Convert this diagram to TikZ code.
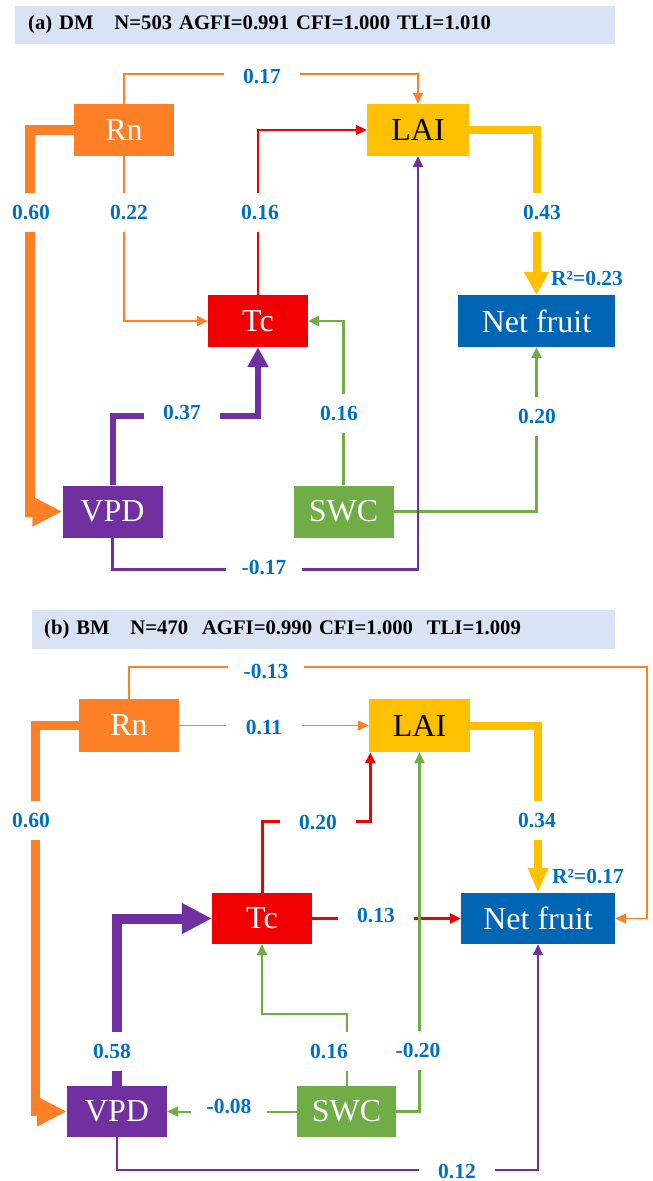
\documentclass[tikz,border=0pt]{standalone}
\usepackage{fontspec}
\setmainfont{Liberation Serif}
\usetikzlibrary{arrows.meta}
\definecolor{rnc}{RGB}{253,128,39}
\definecolor{laic}{RGB}{255,192,0}
\definecolor{tcc}{RGB}{240,0,0}
\definecolor{nfc}{RGB}{0,101,179}
\definecolor{vpdc}{RGB}{112,48,160}
\definecolor{swcc}{RGB}{112,173,71}
\definecolor{titc}{RGB}{218,227,243}
\definecolor{lblc}{RGB}{0,112,192}
\begin{document}
\begin{tikzpicture}[x=1pt,y=-1pt,font=\fontsize{21.5}{25}\selectfont,
box/.style={minimum width=100pt,minimum height=52pt,inner sep=0pt,text=white,font=\fontsize{32}{38}\selectfont},
lbl/.style={fill=white,text=lblc,minimum width=76pt,minimum height=39pt,inner sep=0pt,font=\bfseries\fontsize{21.5}{25}\selectfont},
rsq/.style={text=lblc,inner sep=0pt,font=\bfseries\fontsize{21.5}{25}\selectfont},
tbar/.style={fill=titc,anchor=west,minimum height=38pt,inner ysep=0pt,align=left,font=\bfseries\fontsize{20.7}{25}\selectfont},
arr/.style={-{Triangle[length=11pt,width=10pt]}}]
\useasboundingbox (0,0) rectangle (653,1181);
\node[tbar,inner xsep=13pt,text width=574pt] at (15,25) (titA) {(a) DM\ \ \ N=503 AGFI=0.991 CFI=1.000 TLI=1.010};
\node[box,fill=rnc] at (124,130) (rnA) {Rn};
\node[box,fill=laic,text=black,minimum width=102pt] at (418,130) (laiA) {LAI};
\node[box,fill=tcc] at (258,321) (tcA) {Tc};
\node[box,fill=nfc,minimum width=157pt] at (536.5,321) (nfA) {Net fruit};
\node[box,fill=vpdc] at (112.5,511.5) (vpdA) {VPD};
\node[box,fill=swcc] at (343.5,511.5) (swcA) {SWC};
\draw[rnc,line width=2pt,arr] (rnA.north)--++(0,-30)-|(laiA.north);
\draw[rnc,line width=10pt,-{Triangle[length=30pt,width=28pt]}] (rnA.west)--++(-44,0)|-(vpdA.west);
\draw[rnc,line width=2.5pt,arr] (rnA.south)|-(tcA.west);
\draw[tcc,line width=2pt,arr] (tcA.north)|-(laiA.west);
\draw[laic,line width=8pt,-{Triangle[length=23pt,width=24pt]}] (laiA.east)-|(nfA.north);
\draw[vpdc,line width=6pt,-{Triangle[length=20pt,width=20pt]}] (vpdA.north)--++(0,-69)-|(tcA.south);
\draw[swcc,line width=2.5pt,arr] (swcA.north)|-(tcA.east);
\draw[swcc,line width=2.5pt,arr] (swcA.east)-|(nfA.south);
\draw[vpdc,line width=2.5pt,arr] (vpdA.south)--++(0,32)-|(laiA.south);
\node[lbl] at (262,77) (l17a) {0.17};
\node[lbl] at (31,212) (l60a) {0.60};\node[lbl] at (129,212) (l22a) {0.22};
\node[lbl] at (260,212) (l16a) {0.16};\node[lbl] at (542,212) (l43a) {0.43};
\node[lbl] at (182,412) (l37a) {0.37};\node[lbl] at (339,413) (l16c) {0.16};
\node[lbl] at (537,416) (l20a) {0.20};\node[lbl] at (264,567) (l17c) {-0.17};
\node[rsq] at (587,278) (r2A) {R²=0.23};
\node[tbar,inner xsep=12pt,minimum height=39pt,text width=559pt] at (32,629.5) (titB) {(b) BM\ \ \ N=470\ \ AGFI=0.990 CFI=1.000\ \ TLI=1.009};
\node[box,fill=rnc,minimum height=53pt] at (129,725.5) (rnB) {Rn};
\node[box,fill=laic,text=black,minimum width=101pt,minimum height=53pt] at (419.5,725.5) (laiB) {LAI};
\node[box,fill=tcc,minimum height=51pt] at (262,918.5) (tcB) {Tc};
\node[box,fill=nfc,minimum width=154pt,minimum height=51pt] at (538,918.5) (nfB) {Net fruit};
\node[box,fill=vpdc,minimum height=51pt] at (117,1111.5) (vpdB) {VPD};
\node[box,fill=swcc,minimum width=99pt,minimum height=51pt] at (346.5,1111.5) (swcB) {SWC};
\coordinate (rgt) at (647,667);
\draw[rnc,line width=1.5pt,arr] (rnB.north)|-(rgt)|-(nfB.east);
\draw[rnc,line width=1.5pt,arr] (rnB.east)--(laiB.west);
\draw[rnc,line width=9pt,-{Triangle[length=30pt,width=28pt]}] (rnB.west)--++(-43,0)|-(vpdB.west);
\draw[tcc,line width=3pt,arr] (tcB.north)--++(0,-71)-|([xshift=1.5pt]laiB.south west);
\draw[tcc,line width=2.5pt,arr] (tcB.east)--(nfB.west);
\draw[laic,line width=8pt,-{Triangle[length=25pt,width=19pt]}] (laiB.east)-|(nfB.north);
\draw[vpdc,line width=10pt,-{Triangle[length=30pt,width=29pt]}] (vpdB.north)|-(tcB.west);
\draw[vpdc,line width=1.5pt,arr] (vpdB.south)--++(0,33)-|(nfB.south);
\draw[swcc,line width=2pt,arr] (swcB.north)--++(0,-72)-|(tcB.south);
\draw[swcc,line width=2.5pt,arr] (swcB.east)-|(laiB.south);
\draw[swcc,line width=2pt,arr] (swcB.west)--(vpdB.east);
\node[lbl] at (266,671) (l13b) {-0.13};\node[lbl] at (264,727) (l11b) {0.11};
\node[lbl] at (31,820) (l60b) {0.60};\node[lbl] at (318,822) (l20b) {0.20};
\node[lbl] at (537,820) (l34b) {0.34};\node[lbl] at (376,915) (l13c) {0.13};
\node[lbl] at (112,1051) (l58b) {0.58};\node[lbl] at (329,1051) (l16b) {0.16};
\node[lbl] at (418,1050) (l20c) {-0.20};\node[lbl] at (229,1106) (l08b) {-0.08};
\node[lbl] at (457,1171) (l12b) {0.12};
\node[rsq] at (588,876) (r2B) {R²=0.17};
\end{tikzpicture}
\end{document}
